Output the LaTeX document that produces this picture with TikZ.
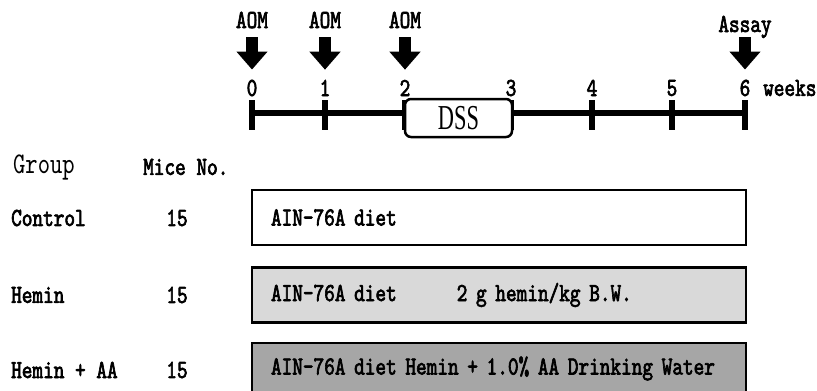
\documentclass[tikz,border=0pt]{standalone}
\usepackage{fontspec}
\setmainfont{lmmono10-regular.otf}[FakeStretch=0.78,
	BoldFont=lmmono10-regular.otf, BoldFeatures={FakeBold=2.5}]
\newfontfamily\dssfont{Liberation Serif}[FakeStretch=0.64]
\usepackage{tikz}
\usetikzlibrary{arrows.meta}
\definecolor{hemingrey}{RGB}{217,217,217}
\definecolor{aagrey}{RGB}{166,166,166}
\newcommand\lblfont{\fontsize{26}{28}\selectfont\bfseries}

\tikzset{
	lbl/.style={font=\lblfont, inner sep=2pt},
	axis/.style={line width=6.5pt},
	bigarrow/.style={line width=12pt, -{Triangle[width=30pt,length=18pt]}, shorten <=7pt, shorten >=8pt},
	dietbox/.style={draw, line width=2.5pt, minimum width=494pt, minimum height=55pt,
		text width=456pt, inner xsep=19pt, align=left, font=\lblfont}
}

\begin{document}
\begin{tikzpicture}[x=1pt, y=-1pt]
	\useasboundingbox (0,0) rectangle (817,391);
	\clip (0,0) rectangle (817,391);
	\foreach \w/\x in {0/252, 1/325, 2/405, 3/511, 4/592, 5/672, 6/745}
	{
		\coordinate (t\w) at (\x,113);
		\draw[axis] (\x,100) -- (\x,130);
		\node[lbl] (n\w) at (\x,88) {\w};
	}
	\draw[axis] (t0) -- (t6);
	\node[draw, fill=white, rounded corners=6pt, line width=2.5pt, inner sep=0pt,
		minimum width=107pt, minimum height=38pt,
		font=\dssfont\fontsize{35}{37}\selectfont] (dss) at (458.5,118) {DSS};
	\node[lbl, anchor=west] (weeks) at (761,88) {weeks};
	\foreach \w/\x in {0/252, 1/325, 2/405}
	{
		\node[lbl, anchor=base] (aom\w) at (\x,28) {AOM};
		\draw[bigarrow] (aom\w) -- (n\w);
	}
	\node[lbl, anchor=base, text depth=0pt] (assay) at (745,32) {Assay};
	\draw[bigarrow, shorten <=3pt] (assay) -- (n6);

	\node[anchor=west, inner sep=2pt, font=\fontsize{30}{32}\selectfont] (group) at (11,167) {Group};
	\node[lbl, anchor=west] (mice) at (141,167) {Mice No.};
	\foreach \g/\y [count=\r] in {Control/218, Hemin/295, Hemin + AA/370}
	{
		\node[lbl, anchor=west] (grp\r) at (9,\y) {\g};
		\node[lbl] (no\r) at (177,\y) {15};
	}

	\node[dietbox] (diet1) at (499,217.5) {AIN-76A diet};
	\node[dietbox, fill=hemingrey] (diet2) at (499,295) {AIN-76A diet\hspace{60pt}2 g hemin/kg B.W.};
	\node[dietbox, fill=aagrey, text depth=10pt] (diet3) at (499,370.5) {AIN-76A diet Hemin + 1.0\% AA Drinking Water};
\end{tikzpicture}
\end{document}
